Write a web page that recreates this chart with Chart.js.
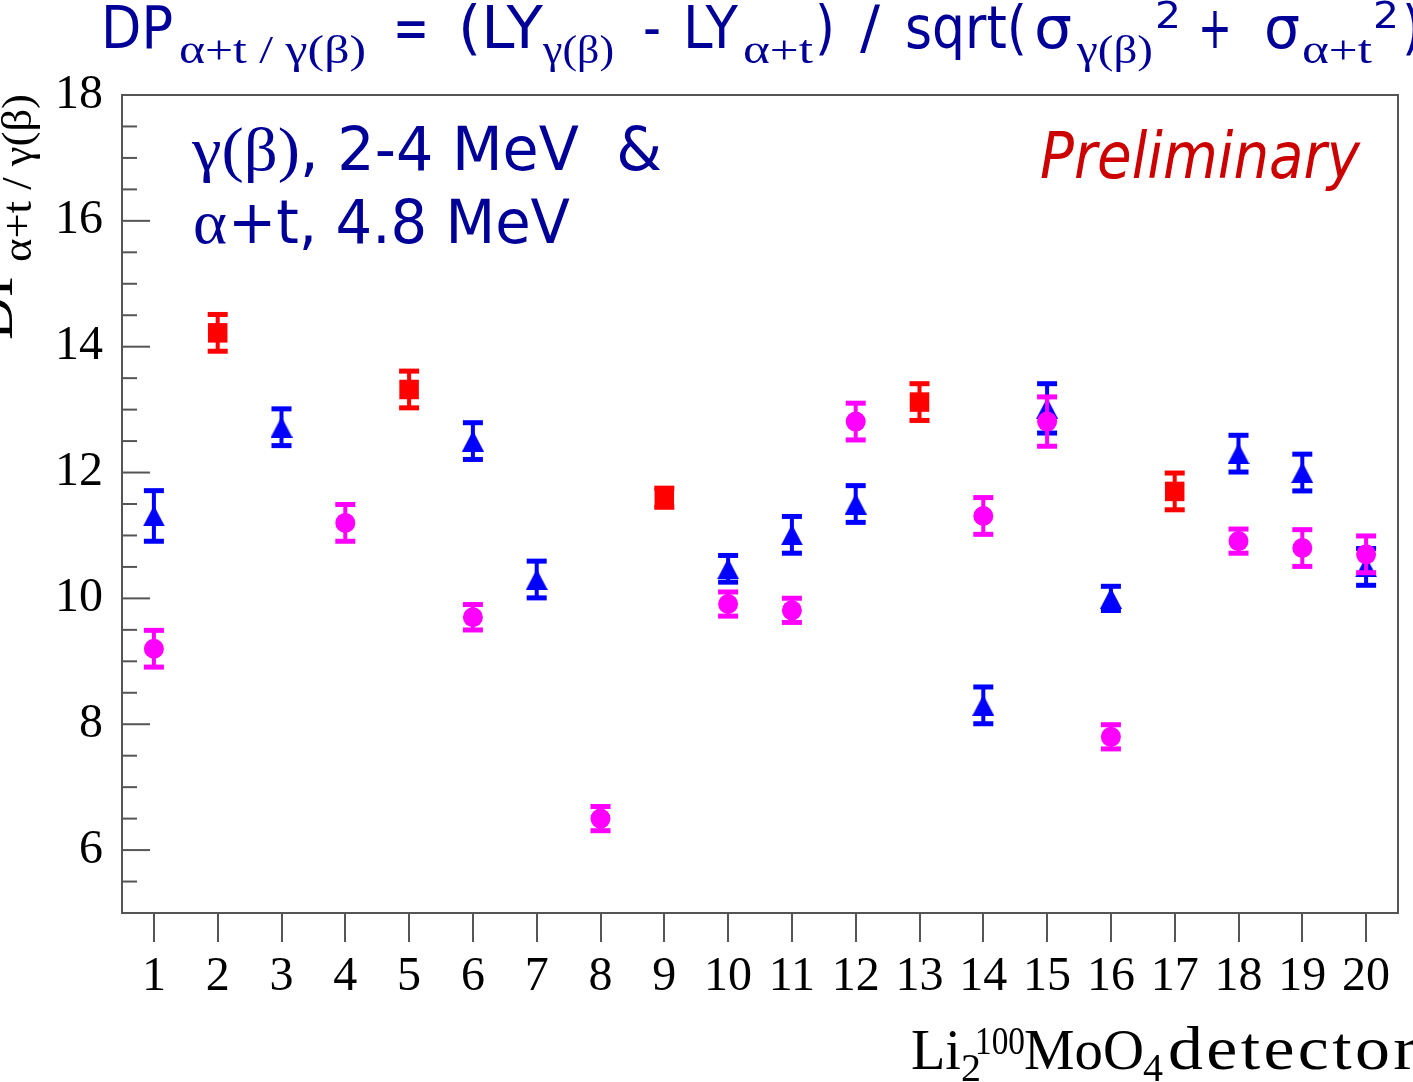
<!DOCTYPE html>
<html>
<head>
<meta charset="utf-8">
<script src="https://cdn.jsdelivr.net/npm/chart.js@4"></script>
<style>
  html, body { margin: 0; padding: 0; background: #ffffff; }
  #wrap { position: relative; width: 1413px; height: 1082px; }
</style>
</head>
<body>
<div id="wrap"><canvas id="c" width="1413" height="1082"></canvas></div>
<script>
// ---------------- data ----------------
const detectorTicks = [1,2,3,4,5,6,7,8,9,10,11,12,13,14,15,16,17,18,19,20];
const yTickLabels = [6, 8, 10, 12, 14, 16, 18];

// red squares
const redDet = [2, 5, 9, 13, 17];
const redVal = [14.22, 13.32, 11.6, 13.12, 11.7];
const redErr = [0.3, 0.3, 0.16, 0.3, 0.3];

// blue triangles
const blueDet = [1, 3, 6, 7, 10, 11, 12, 14, 15, 16, 18, 19, 20];
const blueVal = [11.31, 12.72, 12.5, 10.3, 10.47, 11.01, 11.5, 8.3, 13.02, 10.0, 12.3, 12.0, 10.5];
const blueErr = [0.41, 0.3, 0.3, 0.3, 0.22, 0.3, 0.3, 0.3, 0.4, 0.2, 0.3, 0.3, 0.3];

// magenta circles
const magDet = [1, 4, 6, 8, 10, 11, 12, 14, 15, 16, 18, 19, 20];
const magVal = [9.2, 11.2, 9.7, 6.5, 9.91, 9.81, 12.81, 11.31, 12.81, 7.8, 10.91, 10.8, 10.7];
const magErr = [0.3, 0.3, 0.21, 0.2, 0.2, 0.2, 0.3, 0.3, 0.4, 0.2, 0.2, 0.3, 0.3];

const toPoints = (d, v, e) => d.map((x, i) => ({ x: x, y: v[i], err: e[i] }));

// ---------------- marker images ----------------
function triangleMarker(color) {
  const c = document.createElement('canvas');
  c.width = 22; c.height = 21;
  const g = c.getContext('2d');
  g.fillStyle = color;
  g.beginPath();
  g.moveTo(11, 0); g.lineTo(22, 21); g.lineTo(0, 21); g.closePath();
  g.fill();
  return c;
}

// ---------------- helpers ----------------
function seg(ctx, text, x, y, font, color, w, spacing) {
  ctx.save();
  ctx.font = font;
  ctx.fillStyle = color;
  ctx.textAlign = 'left';
  ctx.textBaseline = 'alphabetic';
  if (spacing) ctx.letterSpacing = spacing + 'px';
  const m = ctx.measureText(text).width;
  const sx = w ? w / m : 1;
  ctx.translate(x, y);
  ctx.scale(sx, 1);
  ctx.fillText(text, 0, 0);
  ctx.restore();
}

const SANS = '"DejaVu Sans", Verdana, sans-serif';
const SERIF = '"Liberation Serif", "Times New Roman", serif';
const TITLE_C = '#000099';

const decorPlugin = {
  id: 'decor',
  beforeDatasetDraw(chart, args) {
    const ctx = chart.ctx;
    const ds = chart.data.datasets[args.index];
    const xs = chart.scales.x, ys = chart.scales.y;
    ctx.save();
    ctx.fillStyle = ds.borderColor;
    ds.data.forEach(p => {
      const px = xs.getPixelForValue(p.x);
      const yt = ys.getPixelForValue(p.y + p.err);
      const yb = ys.getPixelForValue(p.y - p.err);
      ctx.fillRect(px - 2, yt, 4, yb - yt);
      ctx.fillRect(px - 10, yt - 2, 20, 5);
      ctx.fillRect(px - 10, yb - 3, 20, 5);
    });
    ctx.restore();
  },
  afterDraw(chart) {
    const ctx = chart.ctx;
    const a = chart.chartArea;
    const ys = chart.scales.y;
    ctx.save();
    ctx.strokeStyle = '#555555';
    ctx.lineWidth = 2;
    ctx.strokeRect(a.left, a.top, a.right - a.left, a.bottom - a.top);
    ys.ticks.forEach(t => {
      const py = ys.getPixelForValue(t.value);
      const major = Math.abs(t.value % 2) < 1e-9;
      ctx.beginPath();
      ctx.moveTo(a.left, py);
      ctx.lineTo(a.left + (major ? 28 : 15), py);
      ctx.stroke();
    });
    ctx.restore();

    // title
    const M = '58px ' + SANS, S = '41px ' + SERIF, P = '37px ' + SANS;
    const b = 48, sb = 63, pb = 28;
    seg(ctx, 'DP', 101, b, M, TITLE_C, 72);
    seg(ctx, 'α+t / γ(β)', 179, sb, S, TITLE_C, 187);
    seg(ctx, '=', 393, b, M, TITLE_C, 36);
    seg(ctx, '(LY', 458, b, M, TITLE_C, 85);
    seg(ctx, 'γ(β)', 543, sb, S, TITLE_C, 71);
    seg(ctx, '-', 643, b, M, TITLE_C, 18);
    seg(ctx, 'LY', 683, b, M, TITLE_C, 55);
    seg(ctx, 'α+t', 743, sb, S, TITLE_C, 70);
    seg(ctx, ')', 815, b, M, TITLE_C, 20);
    seg(ctx, '/', 860, b, M, TITLE_C, 20);
    seg(ctx, 'sqrt(', 905, b, M, TITLE_C, 122);
    seg(ctx, 'σ', 1034, b, M, TITLE_C, 38);
    seg(ctx, 'γ(β)', 1077, sb, S, TITLE_C, 76);
    seg(ctx, '2', 1155, pb, P, TITLE_C, 26);
    seg(ctx, '+', 1198, b, M, TITLE_C, 34);
    seg(ctx, 'σ', 1264, b, M, TITLE_C, 36);
    seg(ctx, 'α+t', 1302, sb, S, TITLE_C, 70);
    seg(ctx, '2', 1373, pb, P, TITLE_C, 26);
    seg(ctx, ')', 1402, b, M, TITLE_C, 20);

    // annotation text
    seg(ctx, 'γ(β)', 192, 170, '62px ' + SERIF, TITLE_C, 108);
    seg(ctx, ', 2-4 MeV  &', 300, 170, '60px ' + SANS, TITLE_C, 362);
    seg(ctx, 'α', 193, 243, '62px ' + SERIF, TITLE_C, 34);
    seg(ctx, '+t, 4.8 MeV', 228, 243, '61px ' + SANS, TITLE_C, 342);
    seg(ctx, 'Preliminary', 1040, 178, 'italic 64px ' + SANS, '#CC0000', 320);

    // x-axis title
    const XM = '58px ' + SERIF, XS = '40px ' + SERIF;
    seg(ctx, 'Li', 911, 1069, XM, '#000', 50);
    seg(ctx, '2', 961, 1081, XS, '#000', 20);
    seg(ctx, '100', 975, 1054, XS, '#000', 50);
    seg(ctx, 'MoO', 1024, 1069, XM, '#000', 120);
    seg(ctx, '4', 1143, 1081, XS, '#000', 20);
    seg(ctx, 'detector', 1168, 1069, '62px ' + SERIF, '#000', 252, 3);

    // y-axis title (rotated)
    ctx.save();
    ctx.rotate(-Math.PI / 2);
    seg(ctx, 'DP', -340, 12, '58px ' + SERIF, '#000', 76);
    seg(ctx, 'α+t / γ(β)', -262, 31, '42px ' + SERIF, '#000', 168);
    ctx.restore();
  }
};

const ctx = document.getElementById('c').getContext('2d');
new Chart(ctx, {
  type: 'scatter',
  data: {
    datasets: [
      { label: 'magenta', data: toPoints(magDet, magVal, magErr), pointStyle: 'circle', pointRadius: 10,
        backgroundColor: '#FF00FF', borderColor: '#FF00FF', borderWidth: 0 },
      { label: 'blue', data: toPoints(blueDet, blueVal, blueErr), pointStyle: triangleMarker('#0000FF'), pointRadius: 11,
        backgroundColor: '#0000FF', borderColor: '#0000FF', borderWidth: 0 },
      { label: 'red', data: toPoints(redDet, redVal, redErr), pointStyle: 'rect', pointRadius: 13.8,
        backgroundColor: '#FF0000', borderColor: '#FF0000', borderWidth: 0 }
    ]
  },
  options: {
    responsive: false,
    animation: false,
    devicePixelRatio: 1,
    layout: { padding: { top: 95, right: 15, left: 0, bottom: 0 } },
    plugins: { legend: { display: false }, title: { display: false }, tooltip: { enabled: false } },
    elements: { point: { hoverRadius: 0 } },
    scales: {
      x: {
        type: 'linear', min: 0.5, max: 20.5,
        afterBuildTicks: s => { s.ticks = detectorTicks.map(v => ({ value: v })); },
        afterFit: s => { s.height = 169; },
        ticks: { autoSkip: false, maxRotation: 0, padding: 7, color: '#000',
          font: { family: SERIF, size: 48 }, callback: v => String(v) },
        grid: { display: true, drawOnChartArea: false, drawTicks: true, tickLength: 29, color: '#555555', lineWidth: 2 },
        border: { display: false }
      },
      y: {
        type: 'linear', min: 5, max: 18,
        afterBuildTicks: s => {
          const t = [];
          for (let v = 5; v <= 18.0001; v += 0.5) t.push({ value: v });
          s.ticks = t;
        },
        afterFit: s => { s.width = 122; },
        ticks: { autoSkip: false, padding: 19, color: '#000',
          font: { family: SERIF, size: 48 },
          callback: v => (yTickLabels.includes(v) ? String(v) : '') },
        grid: { display: false, drawTicks: false },
        border: { display: false }
      }
    }
  },
  plugins: [decorPlugin]
});
</script>
</body>
</html>
